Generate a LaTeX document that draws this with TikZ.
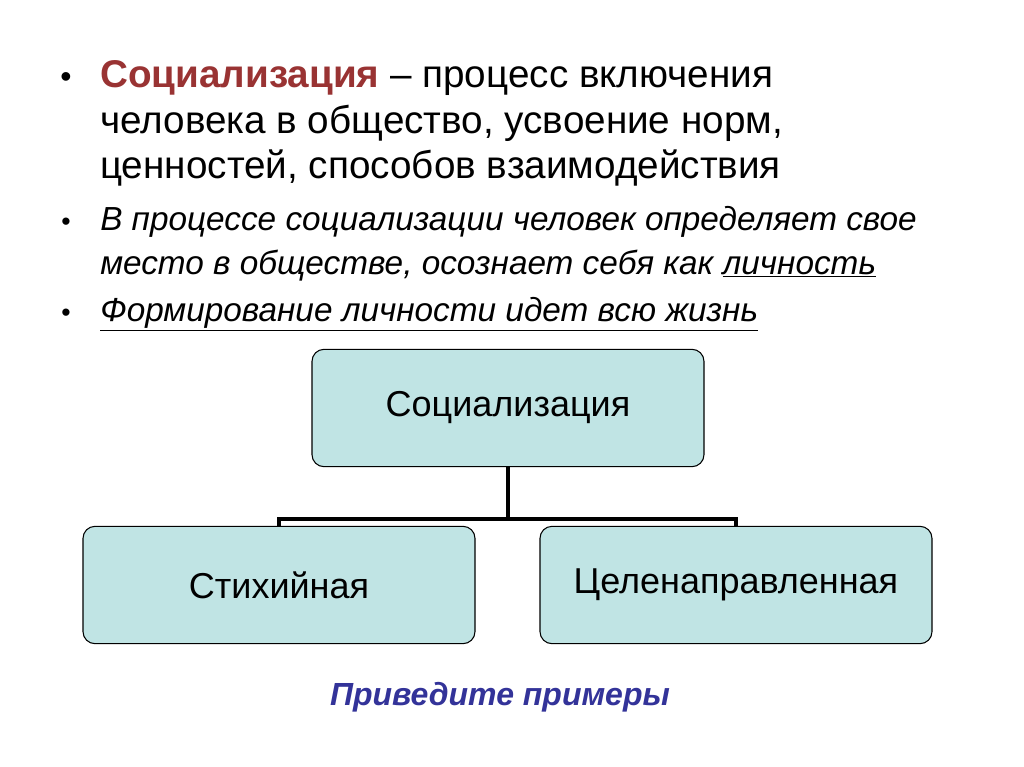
\documentclass[tikz,border=0pt]{standalone}
\usepackage{fontspec}
\setmainfont{Liberation Sans}
\definecolor{boxfill}{HTML}{C0E4E4}
\definecolor{termred}{HTML}{993333}
\definecolor{navy}{HTML}{333399}
\newcommand{\bulletmark}{\textbullet}

\begin{document}
\begin{tikzpicture}
	[x=0.75pt, y=-0.75pt,
	line/.style={anchor=base west, inner sep=0pt},
	centered/.style={anchor=base, inner sep=0pt},
	box/.style={rectangle, rounded corners=9pt, draw=black, fill=boxfill, line width=0.8pt,
		minimum width=294pt, minimum height=88pt, font=\fontsize{27}{32}\selectfont}]
	\useasboundingbox (0,0) rectangle (1024,767);
	
	% definition
	\node (m1) at ( 66,88 ) [centered, font=\fontsize{24}{28}\selectfont] {\bulletmark};
	\node (t1) at ( 100,88 ) [line, font=\fontsize{29}{34}\selectfont] {\textbf{\textcolor{termred}{Социализация}} – процесс включения};
	\node (t2) at ( 100,133 ) [line, font=\fontsize{29}{34}\selectfont] {человека в общество, усвоение норм,};
	\node (t3) at ( 100,178 ) [line, font=\fontsize{29}{34}\selectfont] {ценностей, способов взаимодействия};
	
	% second and third points
	\node (m2) at ( 66,230 ) [centered, font=\fontsize{20}{24}\selectfont] {\bulletmark};
	\node (t4) at ( 100,230 ) [line, font=\fontsize{25}{30}\itshape] {В процессе социализации человек определяет свое};
	\node (t5) at ( 100,274 ) [line, font=\fontsize{25}{30}\itshape] {место в обществе, осознает себя как \underline{личность}};
	\node (m3) at ( 66,321 ) [centered, font=\fontsize{20}{24}\selectfont] {\bulletmark};
	\node (t6) at ( 100,321 ) [line, font=\fontsize{25}{30}\itshape] {\underline{Формирование личности идет всю жизнь}};
	
	% tree
	\node (root) at ( 508,408 ) [box] {Социализация};
	\node (left) at ( 279,585 ) [box] {Стихийная};
	\node (right) at ( 736,585 ) [box] {Целенаправленная};
	
	\draw [line width=3pt] (root.south) -- ++(0,52) -| (left.north);
	\draw [line width=3pt] (root.south) -- ++(0,52) -| (right.north);
	
	\node (ask) at ( 500,705 ) [centered, text=navy, font=\fontsize{24}{28}\bfseries\itshape] {Приведите примеры};
\end{tikzpicture}
\end{document}
